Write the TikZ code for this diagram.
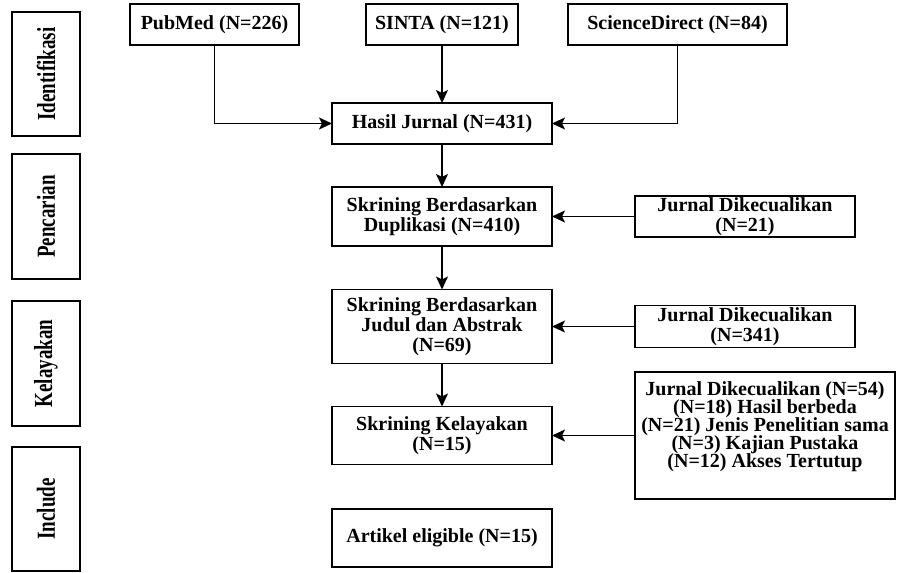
\documentclass[tikz,border=0pt]{standalone}
\usepackage{fontspec}
\setmainfont{Liberation Serif}
\usetikzlibrary{arrows.meta,positioning}
\newcommand\rapat{\setlength{\lineskiplimit}{-10pt}\setlength{\lineskip}{0pt}}
\newcommand\tahap[1]{\scalebox{0.95}[1.3]{#1}}

\begin{document}
\begin{tikzpicture}[
		x=0.5pt, y=-0.5pt,
		every node/.style = {
			draw, rectangle,
			line width=0.75pt,
			outer sep=0pt, inner sep=0pt,
			align=center,
			font=\fontsize{10}{10}\selectfont\bfseries
		},
		stage/.style = {rotate=90, minimum height=34pt},
		->/.style = {-{Stealth[length=6.5pt,width=6pt,inset=1.5pt]}, line width=0.75pt}
		]
		\useasboundingbox (0,0) rectangle (897,572);
		% tahap
		\node [stage, minimum width=62pt] (ident) at (46,74) {\tahap{Identifikasi}};
		\node [stage, minimum width=62.5pt] (cari) at (46,216.5) {\tahap{Pencarian}};
		\node [stage, minimum width=62.5pt] (kel) at (46,363.5) {\tahap{Kelayakan}};
		\node [stage, minimum width=62pt] (inc) at (46,509) {\tahap{Include}};
		% sumber
		\node [minimum width=84.5pt, minimum height=20.5pt] (pubmed) at (214.5,24.5) {PubMed (N=226)};
		\node [minimum width=76pt, minimum height=20.5pt] (sinta) at (442,24.5) {SINTA (N=121)};
		\node [minimum width=109.5pt, minimum height=20.5pt] (sd) at (677.5,24.5) {ScienceDirect (N=84)};
		% alur utama
		\node [minimum width=110pt, minimum height=20.5pt] (hasil) at (442,123.5) {Hasil Jurnal (N=431)};
		\node [minimum width=110pt, minimum height=29.5pt] (dup) at (442,216.5) {Skrining Berdasarkan\\Duplikasi (N=410)};
		\node [minimum width=110pt, minimum height=37pt] (judul) at (442,326.5) {Skrining Berdasarkan\\Judul dan Abstrak\\(N=69)};
		\node [minimum width=110pt, minimum height=29pt] (layak) at (442,435.5) {Skrining Kelayakan\\(N=15)};
		\node [minimum width=110pt, minimum height=29pt] (artikel) at (442,538) {Artikel eligible (N=15)};
		% dikecualikan
		\node [minimum width=110pt, minimum height=20.5pt] (ex1) at (745,216.5) {Jurnal Dikecualikan\\(N=21)};
		\node [minimum width=110pt, minimum height=21pt] (ex2) at (745,326.5) {Jurnal Dikecualikan\\(N=341)};
		\node [minimum width=130pt, minimum height=63.5pt,
			font=\fontsize{10}{9}\selectfont\bfseries\rapat] (ex3) at (765,435.5)
			{Jurnal Dikecualikan (N=54)\\(N=18) Hasil berbeda\\(N=21) Jenis Penelitian sama\\(N=3) Kajian Pustaka\\(N=12) Akses Tertutup\\[1.5pt]\mbox{}};

		\draw[->] (pubmed.south) |- (hasil.west);
		\draw[->] (sinta) -- (hasil);
		\draw[->] (sd.south) |- (hasil.east);
		\draw[->] (hasil) -- (dup);
		\draw[->] (dup) -- (judul);
		\draw[->] (judul) -- (layak);
		\draw[->] (ex1) -- (dup);
		\draw[->] (ex2) -- (judul);
		\draw[->] (ex3) -- (layak);
	\end{tikzpicture}
\end{document}
